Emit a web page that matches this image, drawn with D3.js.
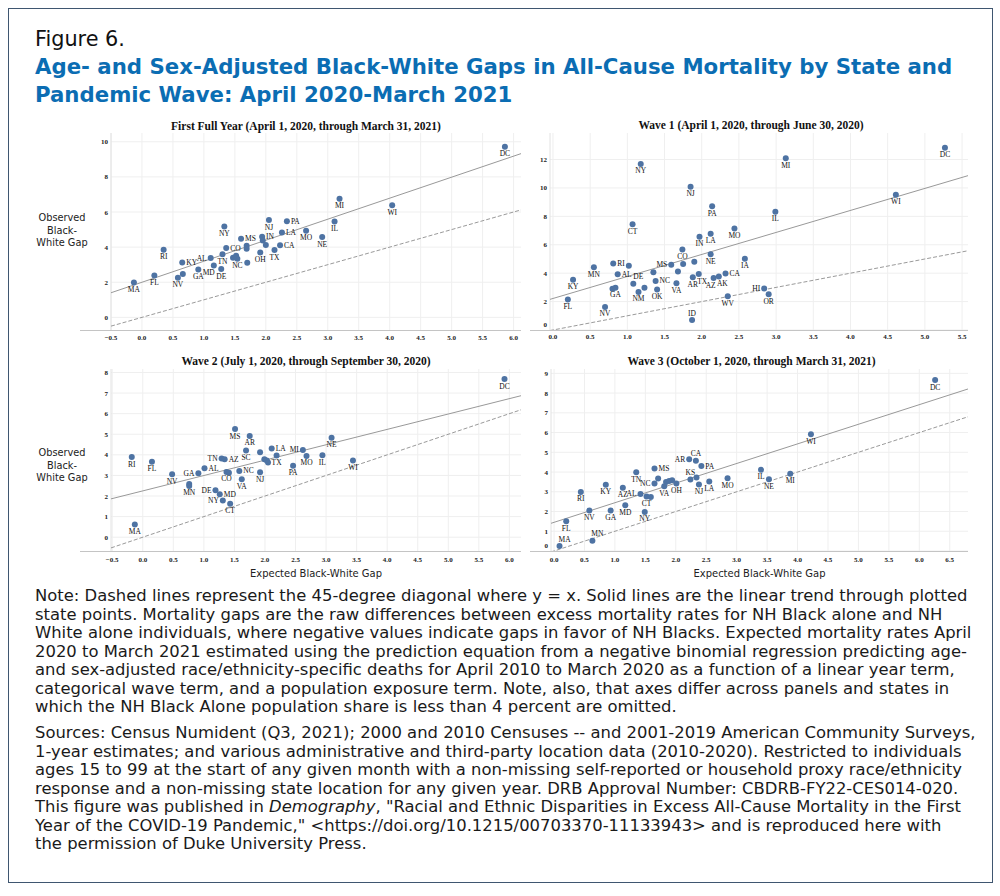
<!DOCTYPE html>
<html>
<head>
<meta charset="utf-8">
<script src="https://cdn.jsdelivr.net/npm/d3@7"></script>
<style>
  body { margin: 0; background: #fff; }
  svg text { font-family: "DejaVu Sans", sans-serif; }
</style>
</head>
<body>
<svg id="fig" width="1000" height="896"></svg>
<script>
const figureLabel = "Figure 6.";
const titleLines = [
  "Age- and Sex-Adjusted Black-White Gaps in All-Cause Mortality by State and",
  "Pandemic Wave: April 2020-March 2021"
];
const panelTitles = [
  "First Full Year (April 1, 2020, through March 31, 2021)",
  "Wave 1 (April 1, 2020, through June 30, 2020)",
  "Wave 2 (July 1, 2020, through September 30, 2020)",
  "Wave 3 (October 1, 2020, through March 31, 2021)"
];
const yTitle = ["Observed", "Black-", "White Gap"];
const xTitle = "Expected Black-White Gap";

// First full year ("" = point whose label is hidden)
const fyState = ["MA","FL","RI","NV","","KY","GA","AL","MD","DE","TN","NY","CO","","","NC","MS","","","","OH","IN","","","NJ","TX","CA","LA","PA","MO","NE","IL","MI","WI","DC"];
const fyExpected = [-0.13,0.20,0.35,0.58,0.66,0.65,0.91,1.11,1.16,1.28,1.30,1.33,1.36,1.47,1.52,1.54,1.60,1.69,1.69,1.70,1.91,1.94,1.95,2.00,2.05,2.14,2.23,2.26,2.34,2.65,2.91,3.11,3.19,4.04,5.86];
const fyObserved = [1.99,2.39,3.85,2.26,2.47,3.13,2.73,3.38,2.96,2.75,3.59,5.18,3.95,3.40,3.51,3.34,4.48,4.08,3.91,3.11,3.70,4.59,4.38,4.12,5.54,3.83,4.10,4.84,5.48,4.93,4.57,5.46,6.76,6.38,9.72];
const fyXTicks = [-0.5,0,0.5,1,1.5,2,2.5,3,3.5,4,4.5,5,5.5,6];
const fyYTicks = [0,2,4,6,8,10];

// Wave 1
const w1State = ["KY","FL","NV","MN","RI","AL","","GA","","DE","NM","","CT","NY","","NC","OK","MS","VA","","","CO","","AR","ID","TX","IN","NJ","LA","NE","PA","AZ","AK","CA","WV","MO","IA","HI","OR","IL","MI","WI","DC"];
const w1Expected = [0.27,0.20,0.70,0.55,0.81,0.87,0.80,0.84,1.02,1.08,1.15,1.23,1.07,1.18,1.35,1.38,1.40,1.59,1.66,1.68,1.75,1.74,1.90,1.88,1.87,1.96,1.97,1.85,2.12,2.12,2.14,2.16,2.23,2.32,2.35,2.44,2.58,2.84,2.90,2.99,3.13,4.61,5.27];
const w1Observed = [3.54,2.14,1.62,4.41,4.69,3.92,2.91,2.98,4.53,3.26,2.68,2.98,7.44,11.69,4.06,3.45,2.86,4.60,3.29,4.11,4.65,5.66,4.81,3.71,0.70,3.94,6.57,10.09,6.78,5.33,8.71,3.66,3.76,3.97,2.37,7.14,5.02,2.93,2.51,8.33,12.09,9.53,12.84];
const w1XTicks = [0,0.5,1,1.5,2,2.5,3,3.5,4,4.5,5,5.5];
const w1YTicks = [0,2,4,6,8,10,12];

// Wave 2
const w2State = ["RI","MA","FL","NV","","MN","GA","AL","DE","MD","TN","NY","AZ","CO","","CT","MS","NC","VA","SC","AR","NJ","","","","","LA","TX","PA","MI","MO","IL","NE","WI","DC"];
const w2Expected = [-0.18,-0.13,0.15,0.48,0.76,0.76,0.91,1.01,1.19,1.26,1.29,1.31,1.34,1.37,1.41,1.43,1.51,1.58,1.62,1.69,1.75,1.92,1.92,1.99,2.03,2.05,2.11,2.19,2.46,2.62,2.68,2.94,3.09,3.44,5.92];
const w2Observed = [3.89,0.62,3.66,3.06,2.59,2.49,3.11,3.35,2.28,2.09,3.82,1.78,3.79,3.17,3.13,1.62,5.25,3.22,2.82,4.21,4.92,3.16,4.13,3.79,3.72,3.63,4.31,3.97,3.47,4.24,3.95,3.98,4.83,3.72,7.68];
const w2XTicks = [-0.5,0,0.5,1,1.5,2,2.5,3,3.5,4,4.5,5,5.5,6];
const w2YTicks = [0,1,2,3,4,5,6,7,8];

// Wave 3
const w3State = ["MA","FL","RI","NV","MN","KY","GA","AZ","MD","TN","AL","NY","CT","","MS","NC","","VA","","","","OH","AR","KS","CA","","NJ","PA","LA","MO","IL","NE","MI","WI","DC"];
const w3Expected = [0.09,0.20,0.44,0.58,0.63,0.85,0.93,1.13,1.17,1.35,1.42,1.49,1.52,1.59,1.65,1.65,1.71,1.81,1.84,1.89,1.94,2.01,2.22,2.24,2.33,2.34,2.38,2.42,2.55,2.85,3.40,3.53,3.88,4.22,6.26];
const w3Observed = [0.25,1.51,2.99,2.05,0.52,3.35,2.05,3.21,2.32,3.99,2.89,1.98,2.76,2.74,4.18,3.42,3.67,3.28,3.50,3.55,3.59,3.42,4.65,3.62,4.57,3.72,3.37,4.30,3.52,3.69,4.11,3.64,3.91,5.92,8.66];
const w3XTicks = [0,0.5,1,1.5,2,2.5,3,3.5,4,4.5,5,5.5,6,6.5];
const w3YTicks = [0,1,2,3,4,5,6,7,8,9];

const noteLines = [
  "Note: Dashed lines represent the 45-degree diagonal where y = x. Solid lines are the linear trend through plotted",
  "state points. Mortality gaps are the raw differences between excess mortality rates for NH Black alone and NH",
  "White alone individuals, where negative values indicate gaps in favor of NH Blacks. Expected mortality rates April",
  "2020 to March 2021 estimated using the prediction equation from a negative binomial regression predicting age-",
  "and sex-adjusted race/ethnicity-specific deaths for April 2010 to March 2020 as a function of a linear year term,",
  "categorical wave term, and a population exposure term. Note, also, that axes differ across panels and states in",
  "which the NH Black Alone population share is less than 4 percent are omitted."
];
const sourceLines = [
  [["Sources: Census Numident (Q3, 2021); 2000 and 2010 Censuses -- and 2001-2019 American Community Surveys,"]],
  [["1-year estimates; and various administrative and third-party location data (2010-2020). Restricted to individuals"]],
  [["ages 15 to 99 at the start of any given month with a non-missing self-reported or household proxy race/ethnicity"]],
  [["response and a non-missing state location for any given year. DRB Approval Number: CBDRB-FY22-CES014-020."]],
  [["This figure was published in "], ["Demography", "italic"], [", \"Racial and Ethnic Disparities in Excess All-Cause Mortality in the First"]],
  [["Year of the COVID-19 Pandemic,\" <https://doi.org/10.1215/00703370-11133943> and is reproduced here with"]],
  [["the permission of Duke University Press."]]
];

// label placement relative to the point (default: below)
const fySide = {PA:"r", LA:"r", CA:"r", IN:"r", MS:"r", CO:"r", KY:"r", AL:"l", MD:"lb"};
const w1Side = {MS:"l", RI:"r", AL:"r", DE:"tr", NC:"r", CA:"r", HI:"l", ID:"t", AZ:"bw", AK:"be", TX:"be"};
const w2Side = {MI:"l", LA:"r", TN:"l", AZ:"r", NC:"r", AL:"r", GA:"l", DE:"l", MD:"r", NY:"l"};
const w3Side = {MA:"tr", MN:"tr", AL:"l", MS:"r", NC:"l", AR:"l", KS:"t", CA:"t", PA:"r"};

const panels = [
  {title: panelTitles[0], st: fyState, xs: fyExpected, ys: fyObserved, xt: fyXTicks, yt: fyYTicks, side: fySide,
   l: 111, r: 521, t: 133, b: 330, pane: 80, xd: [-0.5, 6.12], yd: [-0.72, 10.5], ty: 130, tickY: 340, yLab: 221},
  {title: panelTitles[1], st: w1State, xs: w1Expected, ys: w1Observed, xt: w1XTicks, yt: w1YTicks, side: w1Side,
   l: 550, r: 968, t: 133, b: 330, pane: 530, xd: [-0.04, 5.58], yd: [0, 13.87], ty: 129, tickY: 339},
  {title: panelTitles[2], st: w2State, xs: w2Expected, ys: w2Observed, xt: w2XTicks, yt: w2YTicks, side: w2Side,
   l: 111, r: 521, t: 369, b: 551, pane: 80, xd: [-0.52, 6.19], yd: [-0.67, 8.17], ty: 365, tickY: 562, yLab: 456, xLab: 577},
  {title: panelTitles[3], st: w3State, xs: w3Expected, ys: w3Observed, xt: w3XTicks, yt: w3YTicks, side: w3Side,
   l: 551, r: 968, t: 369, b: 551, pane: 530, xd: [-0.05, 6.8], yd: [0, 9.22], ty: 365, tickY: 562, xLab: 577}
];

const serif = "'Liberation Serif', 'Times New Roman', serif";
const dotColor = "#4e73a3";
const fmt = d3.format(".1f");

const svg = d3.select("#fig");

// scale a group of texts so that its first line spans the target width
const fitWidth = (sel, target) => {
  const fs = +sel.attr("font-size");
  const w = sel.node().getComputedTextLength();
  sel.attr("font-size", (fs * target / w).toFixed(2));
};

svg.append("rect")
  .attr("x", 8.5).attr("y", 8.5).attr("width", 984).attr("height", 874)
  .attr("fill", "none").attr("stroke", "#3f5670").attr("stroke-width", 1);

const fig = svg.append("text")
  .attr("x", 35).attr("y", 46)
  .attr("font-size", 20).attr("fill", "#111")
  .text(figureLabel);
fitWidth(fig, 90);

const titles = svg.selectAll(".title").data(titleLines).join("text")
  .attr("class", "title")
  .attr("x", 35).attr("y", (d, i) => 74 + i * 28)
  .attr("font-size", 20).attr("font-weight", 700).attr("fill", "#0b6db3")
  .text(d => d);
fitWidth(titles, 918);

const labelPos = {
  b:  {dx: 0,  dy: 9.5, anchor: "middle"},
  bw: {dx: -3, dy: 9.5, anchor: "middle"},
  be: {dx: 3.5, dy: 9.5, anchor: "middle"},
  t:  {dx: 0,  dy: -4.5, anchor: "middle"},
  tr: {dx: 5,  dy: -4.5, anchor: "middle"},
  r:  {dx: 4,  dy: 2.5, anchor: "start"},
  l:  {dx: -4, dy: 2.5, anchor: "end"},
  lb: {dx: 1, dy: 9.5, anchor: "end"}
};

panels.forEach((p, pi) => {
  const x = d3.scaleLinear().domain(p.xd).range([p.l, p.r]);
  const y = d3.scaleLinear().domain(p.yd).range([p.b, p.t]);
  const g = svg.append("g");

  const clipId = `clip${pi}`;
  svg.append("clipPath").attr("id", clipId)
    .append("rect").attr("x", p.l).attr("y", p.t)
    .attr("width", p.r - p.l).attr("height", p.b - p.t);

  // title
  g.append("text")
    .attr("x", (p.l + p.r) / 2 + (pi % 2 ? -8 : -10)).attr("y", p.ty)
    .attr("text-anchor", "middle")
    .style("font-family", serif).attr("font-weight", 700).attr("font-size", 11.5)
    .attr("fill", "#111")
    .text(p.title);

  // grid
  g.selectAll(".gx").data(p.xt).join("line")
    .attr("x1", d => x(d)).attr("x2", d => x(d))
    .attr("y1", p.t).attr("y2", p.b)
    .attr("stroke", "#efefef");
  g.selectAll(".gy").data(p.yt).join("line")
    .attr("x1", p.l).attr("x2", p.r)
    .attr("y1", d => y(d)).attr("y2", d => y(d))
    .attr("stroke", "#efefef");

  // pane rules
  g.append("line").attr("x1", p.l).attr("x2", p.l).attr("y1", p.t).attr("y2", p.b)
    .attr("stroke", "#e2e2e2");
  g.append("line").attr("x1", p.pane).attr("x2", p.r).attr("y1", p.b + 0.5).attr("y2", p.b + 0.5)
    .attr("stroke", "#c4c4c4");

  // tick labels
  g.selectAll(".tx").data(p.xt).join("text")
    .attr("x", d => x(d)).attr("y", p.tickY)
    .attr("text-anchor", "middle")
    .style("font-family", serif).attr("font-weight", 700).attr("font-size", 7)
    .attr("fill", "#222")
    .text(d => fmt(d));
  g.selectAll(".ty").data(p.yt).join("text")
    .attr("x", p.l - 3).attr("y", d => Math.min(y(d) + 2.5, p.b - 3))
    .attr("text-anchor", "end")
    .style("font-family", serif).attr("font-weight", 700).attr("font-size", 7)
    .attr("fill", "#222")
    .text(d => d);

  // axis titles
  if (p.yLab) {
    const yl = g.selectAll(".yl").data(yTitle).join("text")
      .attr("x", 62).attr("y", (d, i) => p.yLab + i * 12.5)
      .attr("text-anchor", "middle").attr("font-size", 10).attr("fill", "#222")
      .text(d => d);
    fitWidth(yl, 47);
  }
  if (p.xLab) {
    const xl = g.append("text")
      .attr("x", (p.l + p.r) / 2).attr("y", p.xLab)
      .attr("text-anchor", "middle").attr("font-size", 10).attr("fill", "#222")
      .text(xTitle);
    fitWidth(xl, 132);
  }

  const plot = g.append("g").attr("clip-path", `url(#${clipId})`);

  // 45-degree diagonal
  plot.append("line")
    .attr("x1", x(p.xd[0])).attr("y1", y(p.xd[0]))
    .attr("x2", x(p.xd[1])).attr("y2", y(p.xd[1]))
    .attr("stroke", "#9a9a9a").attr("stroke-width", 1).attr("stroke-dasharray", "4,2");

  // linear trend through the plotted points
  const mx = d3.mean(p.xs), my = d3.mean(p.ys);
  const slope = d3.sum(p.xs, (v, i) => (v - mx) * (p.ys[i] - my)) / d3.sum(p.xs, v => (v - mx) ** 2);
  const icpt = my - slope * mx;
  plot.append("line")
    .attr("x1", x(p.xd[0])).attr("y1", y(icpt + slope * p.xd[0]))
    .attr("x2", x(p.xd[1])).attr("y2", y(icpt + slope * p.xd[1]))
    .attr("stroke", "#999").attr("stroke-width", 1);

  const pts = p.xs.map((v, i) => ({x: v, y: p.ys[i], s: p.st[i]}));

  plot.selectAll(".dot").data(pts).join("circle")
    .attr("cx", d => x(d.x)).attr("cy", d => y(d.y)).attr("r", 3)
    .attr("fill", dotColor);

  g.selectAll(".lab").data(pts.filter(d => d.s)).join("text")
    .each(function (d) {
      const pos = labelPos[p.side[d.s] || "b"];
      d3.select(this)
        .attr("x", x(d.x) + pos.dx).attr("y", y(d.y) + pos.dy)
        .attr("text-anchor", pos.anchor);
    })
    .style("font-family", serif).attr("font-size", 7.5).attr("fill", "#111")
    .text(d => d.s);
});

// notes
const notes = svg.selectAll(".note").data(noteLines).join("text")
  .attr("x", 35).attr("y", (d, i) => 601 + i * 18.5)
  .attr("font-size", 15).attr("fill", "#1a1a1a")
  .text(d => d);
fitWidth(notes, 933);

svg.selectAll(".src").data(sourceLines).join("text")
  .attr("x", 35).attr("y", (d, i) => 738 + i * 18.5)
  .attr("font-size", notes.attr("font-size")).attr("fill", "#1a1a1a")
  .each(function (segs) {
    d3.select(this).selectAll("tspan").data(segs).join("tspan")
      .attr("font-style", s => s[1] || null)
      .text(s => s[0]);
  });
</script>
</body>
</html>
